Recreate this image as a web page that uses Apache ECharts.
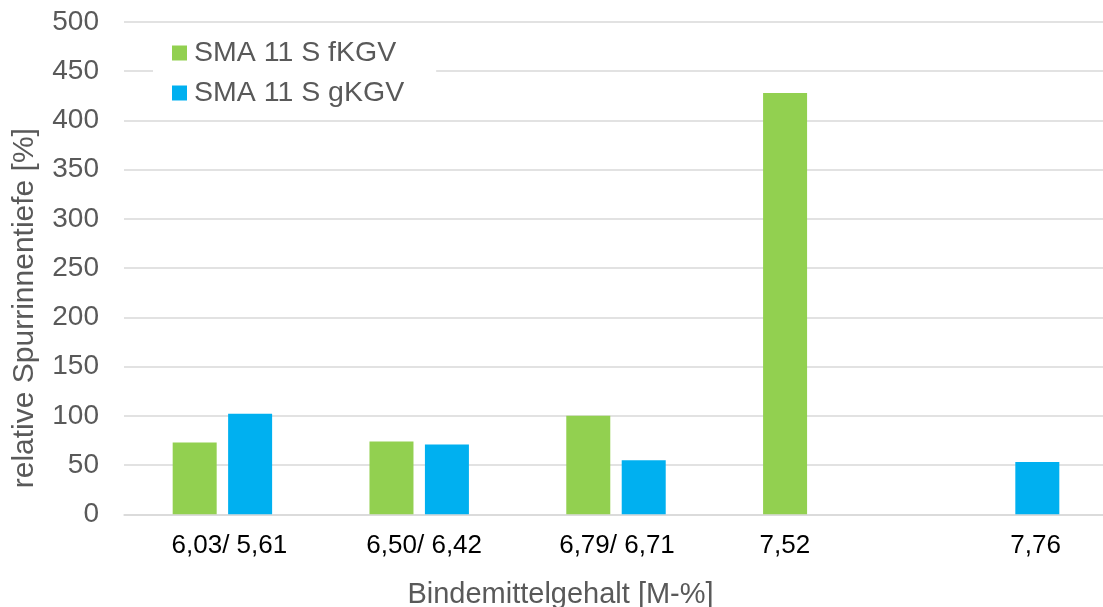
<!DOCTYPE html>
<html>
<head>
<meta charset="utf-8">
<script src="https://cdn.jsdelivr.net/npm/echarts@6/dist/echarts.min.js"></script>
<style>
  html, body { margin: 0; padding: 0; background: #ffffff; }
  #chart { width: 1103px; height: 607px; }
</style>
</head>
<body>
<div id="chart"></div>
<script>
// Binder content categories (fKGV / gKGV)
const categories = ['6,03/ 5,61', '6,50/ 6,42', '6,79/ 6,71', '7,52', '7,76'];
// Relative rut depth [%] per mix
const fKGV = [73, 74, 100, 428, null];
const gKGV = [102, 71, 55, null, 53];
const seriesNames = ['SMA 11 S fKGV', 'SMA 11 S gKGV'];
const yTicks = [0, 50, 100, 150, 200, 250, 300, 350, 400, 450, 500];

// horizontal nudge (px) for each category label
const labelShift = [7, 5, 1, -28, 26];

const chart = echarts.init(document.getElementById('chart'), null, { renderer: 'canvas' });

const FONT = '"Liberation Sans", Arial, sans-serif';

chart.setOption({
  animation: false,
  backgroundColor: '#ffffff',
  textStyle: { fontFamily: FONT },
  grid: { left: 124, right: -5, top: 22, bottom: 92.7, containLabel: false, outerBoundsMode: 'none' },
  legend: {
    orient: 'vertical',
    left: 153,
    top: 27,
    padding: [11, 32, 9, 19],
    backgroundColor: '#ffffff',
    itemWidth: 15,
    itemHeight: 15,
    itemGap: 10,
    icon: 'rect',
    textStyle: { fontFamily: FONT, fontSize: 28.5, color: '#595959', lineHeight: 30, padding: [0, 0, 0, 2] },
    data: seriesNames
  },
  xAxis: {
    type: 'category',
    data: categories,
    axisLine: { show: true, lineStyle: { color: '#d9d9d9', width: 1.5 } },
    axisTick: { show: false },
    axisLabel: {
      interval: 0,
      margin: 19,
      color: '#000000',
      fontSize: 26,
      fontFamily: FONT,
      formatter: function (v, i) {
        return '{s' + i + '|' + v + '}';
      },
      rich: labelShift.reduce(function (acc, d, i) {
        acc['s' + i] = {
          fontSize: 26, fontFamily: FONT, color: '#000000',
          padding: d >= 0 ? [0, 0, 0, 2 * d] : [0, -2 * d, 0, 0]
        };
        return acc;
      }, {})
    },
    name: 'Bindemittelgehalt [M-%]',
    nameLocation: 'middle',
    nameGap: 66,
    nameTextStyle: { fontSize: 29, color: '#595959', fontFamily: FONT, padding: [0, 111, 0, 0] }
  },
  yAxis: {
    type: 'value',
    min: yTicks[0],
    max: yTicks[yTicks.length - 1],
    interval: 50,
    axisLine: { show: false },
    axisTick: { show: false },
    splitLine: { show: true, lineStyle: { color: '#d9d9d9', width: 1.5 } },
    axisLabel: { margin: 25, fontSize: 28, color: '#595959', fontFamily: FONT },
    name: 'relative Spurrinnentiefe [%]',
    nameLocation: 'middle',
    nameRotate: 90,
    nameGap: 84,
    nameTextStyle: { fontSize: 30, color: '#595959', fontFamily: FONT, padding: [0, 80, 0, 0] }
  },
  series: [
    {
      name: seriesNames[0],
      type: 'bar',
      data: fKGV,
      barWidth: 44,
      barGap: '26%',
      itemStyle: { color: '#92d050' }
    },
    {
      name: seriesNames[1],
      type: 'bar',
      data: gKGV,
      barWidth: 44,
      barGap: '26%',
      itemStyle: { color: '#00b0f0' }
    }
  ]
});
</script>
</body>
</html>
